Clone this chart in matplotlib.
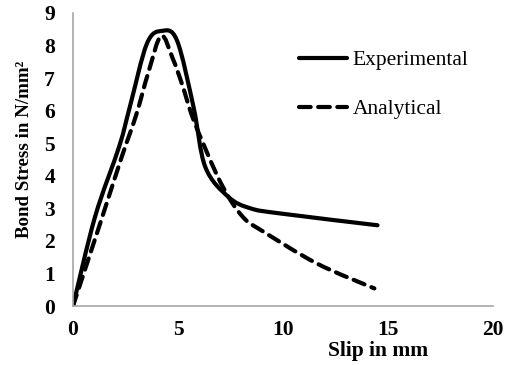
import numpy as np
import matplotlib
matplotlib.use("Agg")
import matplotlib.pyplot as plt
from matplotlib.path import Path
from matplotlib.patches import PathPatch
from matplotlib.lines import Line2D

# data
exp_slip = [0, 1.05, 2.2, 2.72, 3.52, 4.23, 4.95, 5.74, 6.3, 7.4, 8.45, 9.9, 14.5]
exp_stress = [0, 2.74, 4.9, 6.15, 8.06, 8.45, 8.16, 6.11, 4.27, 3.35, 3.0, 2.84, 2.48]

ana_slip = [0, 1.3, 2.32, 3.0, 3.6, 4.2, 4.75, 5.2, 5.75, 6.8, 7.5, 8.2, 8.9, 11.6, 14.35]
ana_stress = [0, 2.55, 4.58, 5.85, 7.2, 8.3, 7.6, 6.8, 5.7, 4.1, 3.25, 2.66, 2.35, 1.31, 0.54]

x_ticks = [0, 5, 10, 15, 20]
y_ticks = list(range(10))


def smooth_path(x, y):
    # excel style smoothed line: catmull-rom turned into cubic bezier pieces
    p = np.column_stack([x, y]).astype(float)
    verts = [p[0]]
    codes = [Path.MOVETO]
    n = len(p)
    for i in range(n - 1):
        p0 = p[i - 1] if i > 0 else p[i]
        p1, p2 = p[i], p[i + 1]
        p3 = p[i + 2] if i + 2 < n else p[i + 1]
        c1 = p1 + (p2 - p0) / 6.0
        c2 = p2 - (p3 - p1) / 6.0
        verts += [c1, c2, p2]
        codes += [Path.CURVE4] * 3
    return Path(verts, codes)


plt.rcParams['font.family'] = ['Liberation Serif', 'DejaVu Serif']

fig = plt.figure(figsize=(5.12, 3.65), dpi=100)
ax = fig.add_axes([73 / 512, 1 - 306 / 365, 420 / 512, 293 / 365])

lw = 3.0
dash = (0, (2.8, 1.8))
solid = PathPatch(smooth_path(exp_slip, exp_stress), fill=False, lw=lw,
                  edgecolor="black", capstyle="round", joinstyle="round")
dashed = PathPatch(smooth_path(ana_slip, ana_stress), fill=False, lw=lw,
                   edgecolor="black", linestyle=dash,
                   capstyle="round", joinstyle="round")
ax.add_patch(solid)
ax.add_patch(dashed)

ax.set_xlim(0, 20)
ax.set_ylim(0, 9)
ax.set_xticks(x_ticks)
ax.set_yticks(y_ticks)
ax.tick_params(length=0, labelsize=15.5)
ax.tick_params(axis="y", pad=13)
ax.tick_params(axis="x", pad=10)
for lab in ax.get_xticklabels() + ax.get_yticklabels():
    lab.set_fontweight("bold")

for s in ["top", "right"]:
    ax.spines[s].set_visible(False)
for s in ["left", "bottom"]:
    ax.spines[s].set_color("#a6a6a6")
    ax.spines[s].set_linewidth(1.2)

fig.text(25 / 512, 1 - 149 / 365, "Bond Stress in N/mm²", rotation=90,
         ha="center", va="center", fontsize=13.6, fontweight="bold")
fig.text(378 / 512, 1 - 351 / 365, "Slip in mm", ha="center", va="center",
         fontsize=15.5, fontweight="bold")

handles = [
    Line2D([], [], color="black", lw=lw, solid_capstyle="round"),
    Line2D([], [], color="black", lw=lw, linestyle=dash, dash_capstyle="round"),
]
ax.legend(handles, ["Experimental", "Analytical"], loc="upper left",
          bbox_to_anchor=(299 / 512, 1 - 50 / 365), bbox_transform=fig.transFigure,
          frameon=False, fontsize=15.5, handlelength=2.25, handletextpad=0.25,
          labelspacing=1.36, borderpad=0, borderaxespad=0)

fig.savefig("out.png", dpi=100)
